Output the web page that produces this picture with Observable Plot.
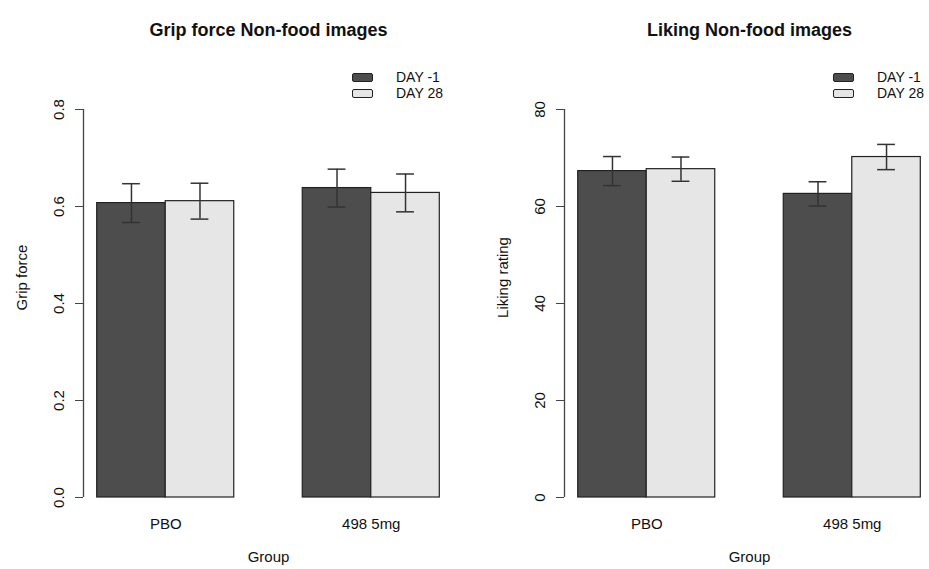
<!DOCTYPE html>
<html>
<head>
<meta charset="utf-8">
<script src="https://cdn.jsdelivr.net/npm/d3@7"></script>
<script src="https://cdn.jsdelivr.net/npm/@observablehq/plot@0.6"></script>
<style>
  html, body { margin: 0; padding: 0; background: #fff; overflow: hidden; }
  #wrap { position: relative; width: 929px; height: 569px; overflow: hidden; font-family: "Liberation Sans", Arial, sans-serif; }
  .panel { position: absolute; top: 0; }
  .legend { position: absolute; font-size: 14px; color: #111; line-height: 16px; }
  .legend .row { display: flex; align-items: center; height: 16px; }
  .legend .sw { width: 19px; height: 7px; border: 1.5px solid #222; border-radius: 2px; margin-right: 23px; }
</style>
</head>
<body>
<div id="wrap"></div>
<script>
// ---- data ----
const groups = ["PBO", "498 5mg"];
const days = ["DAY -1", "DAY 28"];
const dayColors = ["#4d4d4d", "#e6e6e6"];

const gripTitle = "Grip force Non-food images";
const gripYLabel = "Grip force";
const gripTicks = [0, 0.2, 0.4, 0.6, 0.8];
const gripMean = [[0.607, 0.611], [0.638, 0.628]];   // [group][day]
const gripErr  = [[0.040, 0.037], [0.039, 0.039]];

const likeTitle = "Liking Non-food images";
const likeYLabel = "Liking rating";
const likeTicks = [0, 20, 40, 60, 80];
const likeMean = [[67.3, 67.7], [62.6, 70.2]];
const likeErr  = [[3.0, 2.5], [2.5, 2.6]];

const xLabel = "Group";

// R barplot(beside=TRUE) layout: space 1 before each group, bar width 1
function buildRows(mean, err) {
  const rows = [];
  groups.forEach((g, i) => {
    days.forEach((d, j) => {
      const left = 1 + i * 3 + j;
      rows.push({group: g, day: d, x1: left, x2: left + 1, xc: left + 0.5,
                 v: mean[i][j], lo: mean[i][j] - err[i][j], hi: mean[i][j] + err[i][j]});
    });
  });
  return rows;
}
const groupCenters = groups.map((g, i) => 1 + i * 3 + 1);

function panel(title, yLabel, ticks, mean, err, fmt) {
  const rows = buildRows(mean, err);
  const ymax = ticks[ticks.length - 1];
  return Plot.plot({
    width: 481,
    height: 569,
    marginLeft: 83,
    marginRight: 28,
    marginTop: 109,
    marginBottom: 72,
    style: {fontFamily: "Liberation Sans, Arial, sans-serif", fontSize: "15px", color: "#111", background: "#fff"},
    x: {domain: [0.8, 6.2]},
    y: {domain: [0, ymax]},
    color: {domain: days, range: dayColors},
    marks: [
      Plot.rectY(rows, {x1: "x1", x2: "x2", y1: 0, y2: "v", fill: "day", stroke: "#222", strokeWidth: 1.2}),
      Plot.ruleX(rows, {x: "xc", y1: "lo", y2: "hi", stroke: "#333", strokeWidth: 1.5}),
      Plot.ruleY(rows, {y: "lo", x1: d => d.xc - 0.13, x2: d => d.xc + 0.13, stroke: "#333", strokeWidth: 1.5}),
      Plot.ruleY(rows, {y: "hi", x1: d => d.xc - 0.13, x2: d => d.xc + 0.13, stroke: "#333", strokeWidth: 1.5}),
      Plot.ruleX([0.8], {y1: 0, y2: ymax, stroke: "#444", strokeWidth: 1.3}),
      Plot.axisY({ticks, tickSize: 8, tickPadding: 12, tickRotate: -90, tickFormat: fmt, label: null, stroke: "#444"}),
      Plot.axisX({ticks: groupCenters, tickSize: 0, tickPadding: 21, tickFormat: d => groups[groupCenters.indexOf(d)], label: null}),
      Plot.text([yLabel], {frameAnchor: "left", textAnchor: "middle", dx: -61, dy: -26, rotate: -90, fontSize: 15}),
      Plot.text([xLabel], {frameAnchor: "bottom", dy: 64, fontSize: 15}),
      Plot.text([title], {frameAnchor: "top", dy: -86, fontSize: 18, fontWeight: "bold"})
    ]
  });
}

const wrap = document.getElementById("wrap");
const p1 = panel(gripTitle, gripYLabel, gripTicks, gripMean, gripErr, d => d.toFixed(1));
p1.classList.add("panel"); p1.style.left = "0px";
const p2 = panel(likeTitle, likeYLabel, likeTicks, likeMean, likeErr, d => String(d));
p2.classList.add("panel"); p2.style.left = "481px";
wrap.appendChild(p1);
wrap.appendChild(p2);

function legend(left) {
  const el = document.createElement("div");
  el.className = "legend";
  el.style.left = left + "px";
  el.style.top = "69px";
  days.forEach((d, j) => {
    const row = document.createElement("div");
    row.className = "row";
    const sw = document.createElement("div");
    sw.className = "sw";
    sw.style.background = dayColors[j];
    const tx = document.createElement("span");
    tx.textContent = d;
    row.appendChild(sw); row.appendChild(tx);
    el.appendChild(row);
  });
  wrap.appendChild(el);
}
legend(352);
legend(833);
</script>
</body>
</html>
